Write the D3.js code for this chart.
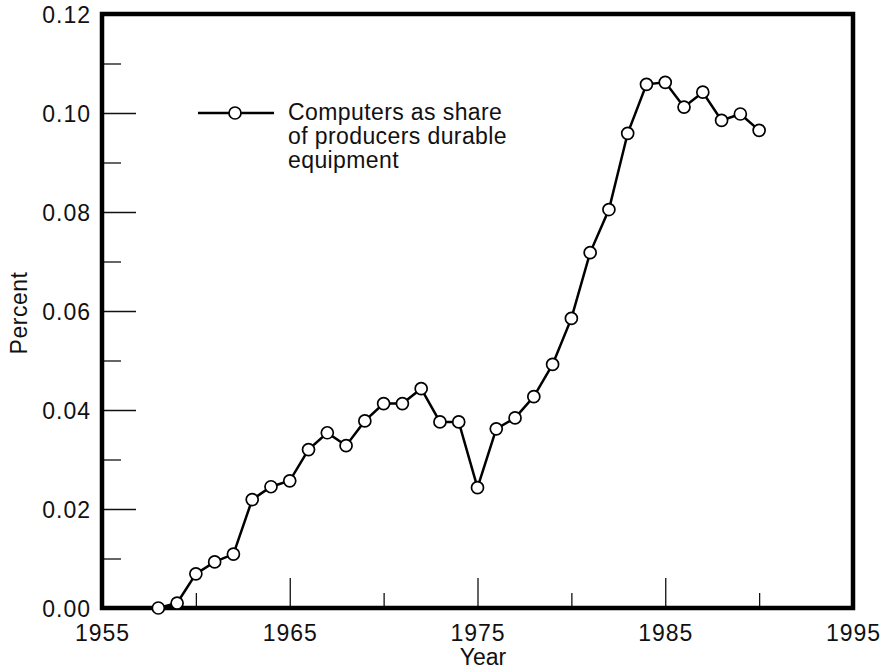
<!DOCTYPE html>
<html>
<head>
<meta charset="utf-8">
<script src="https://cdn.jsdelivr.net/npm/d3@7"></script>
<style>
  body { margin: 0; background: #fff; }
  svg text { font-family: "Liberation Sans", Arial, Helvetica, sans-serif; fill: #111; }
</style>
</head>
<body>
<script>
// computers as share of producers durable equipment, by year
var years = [1958, 1959, 1960, 1961, 1962, 1963, 1964, 1965, 1966, 1967, 1968, 1969,
             1970, 1971, 1972, 1973, 1974, 1975, 1976, 1977, 1978, 1979, 1980, 1981,
             1982, 1983, 1984, 1985, 1986, 1987, 1988, 1989, 1990];
var shares = [0.0000, 0.0010, 0.0069, 0.0093, 0.0109, 0.0219, 0.0245, 0.0257, 0.0320, 0.0354, 0.0328, 0.0378,
              0.0413, 0.0413, 0.0443, 0.0376, 0.0376, 0.0243, 0.0362, 0.0384, 0.0427, 0.0492, 0.0585, 0.0718,
              0.0805, 0.0959, 0.1058, 0.1062, 0.1012, 0.1042, 0.0985, 0.0998, 0.0965];

var xMajor = [1955, 1965, 1975, 1985, 1995];
var xMinor = [1960, 1970, 1980, 1990];
var yMajor = [0, 0.02, 0.04, 0.06, 0.08, 0.10, 0.12];
var yMinor = [0.01, 0.03, 0.05, 0.07, 0.09, 0.11];
var legendLines = ["Computers as share", "of producers durable", "equipment"];

(function () {

var width = 885, height = 671
var plotLeft = 102, plotRight = 853, plotTop = 14, plotBottom = 608

var svg = d3.select("body").append("svg")
  .attr("width", width)
  .attr("height", height)

var x = d3.scaleLinear().domain([1955, 1995]).range([plotLeft, plotRight])
var y = d3.scaleLinear().domain([0, 0.12]).range([plotBottom, plotTop])

// ticks pointing inward
function drawAxis(axis, tr) {
  var g = svg.append("g").attr("transform", tr).call(axis)
  g.select(".domain").remove()
  g.selectAll(".tick line").attr("stroke", "#111").attr("stroke-width", 1.3)
  g.selectAll(".tick text").style("font-size", "23px").style("letter-spacing", "1px").attr("fill", "#111")
  return g
}

var xAx = drawAxis(d3.axisBottom(x).tickValues(xMajor).tickSize(-30).tickPadding(0)
  .tickFormat(d3.format("d")), "translate(0," + plotBottom + ")")
xAx.selectAll(".tick text").attr("y", 33).attr("dy", 0)
drawAxis(d3.axisBottom(x).tickValues(xMinor).tickSize(-15).tickFormat(""), "translate(0," + plotBottom + ")")

var yAx = drawAxis(d3.axisLeft(y).tickValues(yMajor).tickSize(-34).tickPadding(0)
  .tickFormat(d3.format(".2f")), "translate(" + plotLeft + ",0)")
yAx.selectAll(".tick text").attr("x", -11).attr("dy", "0.36em")
drawAxis(d3.axisLeft(y).tickValues(yMinor).tickSize(-19).tickFormat(""), "translate(" + plotLeft + ",0)")

// frame
svg.append("rect")
  .attr("x", plotLeft).attr("y", plotTop)
  .attr("width", plotRight - plotLeft).attr("height", plotBottom - plotTop)
  .attr("fill", "none")
  .attr("stroke", "#000")
  .attr("stroke-width", 4.5)

// axis titles
svg.append("text")
  .attr("x", 483)
  .attr("y", 665)
  .attr("text-anchor", "middle")
  .style("font-size", "23px")
  .text("Year")

svg.append("text")
  .attr("transform", "translate(27,313) rotate(-90)")
  .attr("text-anchor", "middle")
  .style("font-size", "23px")
  .style("letter-spacing", "0.5px")
  .text("Percent")

// series
var data = years.map(function(d, i) { return { year: d, value: shares[i] } })

var line = d3.line()
  .x(function(d) { return x(d.year) })
  .y(function(d) { return y(d.value) })

svg.append("path")
  .datum(data)
  .attr("d", line)
  .attr("fill", "none")
  .attr("stroke", "#000")
  .attr("stroke-width", 2.5)

svg.selectAll("circle.pt")
  .data(data)
  .enter().append("circle")
  .attr("class", "pt")
  .attr("cx", function(d) { return x(d.year) })
  .attr("cy", function(d) { return y(d.value) })
  .attr("r", 6)
  .attr("fill", "#fff")
  .attr("stroke", "#000")
  .attr("stroke-width", 1.7)

// legend
var lg = svg.append("g").attr("transform", "translate(198,113)")
lg.append("line")
  .attr("x1", 0).attr("x2", 76)
  .attr("y1", 0).attr("y2", 0)
  .attr("stroke", "#000").attr("stroke-width", 2.5)
lg.append("circle")
  .attr("cx", 37).attr("cy", 0).attr("r", 6)
  .attr("fill", "#fff").attr("stroke", "#000").attr("stroke-width", 1.7)
lg.selectAll("text")
  .data(legendLines)
  .enter().append("text")
  .attr("x", 90)
  .attr("y", function(d, i) { return 7 + i * 24 })
  .style("font-size", "23px")
  .style("letter-spacing", "0.4px")
  .text(function(d) { return d })

})()
</script>
</body>
</html>
